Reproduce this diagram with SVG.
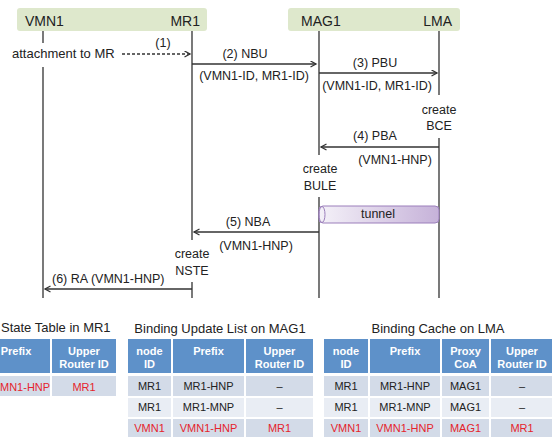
<svg xmlns="http://www.w3.org/2000/svg" width="552" height="441" viewBox="0 0 552 441">
<style>
text{font-family:"Liberation Sans",Arial,sans-serif;fill:#222}
.hd{font-size:14px}
.lb{font-size:12.5px}
.c{text-anchor:middle}
.life{stroke:#333;stroke-width:1.3;fill:none}
.msg{stroke:#333;stroke-width:1.3;fill:none;marker-end:url(#ah)}
.ttl{font-size:13px}
.th{font-size:11px;font-weight:bold;fill:#fff;text-anchor:middle}
.td{font-size:11px;text-anchor:middle}
.red{fill:#e5242c}
.hc{fill:#5e91c9;stroke:#fff;stroke-width:2}
.r1{fill:#d3dbe8;stroke:#fff;stroke-width:2}
.r2{fill:#e9edf4;stroke:#fff;stroke-width:2}
</style>
<defs>
<marker id="ah" markerWidth="8" markerHeight="8" refX="6" refY="3.5" orient="auto" markerUnits="userSpaceOnUse">
<path d="M0.5,0.5 L6,3.5 L0.5,6.5" fill="none" stroke="#333" stroke-width="1.3"/>
</marker>
<linearGradient id="tg" x1="0" y1="0" x2="1" y2="0">
<stop offset="0" stop-color="#f4f1f8"/>
<stop offset="1" stop-color="#c6b2d9"/>
</linearGradient>
</defs>

<g id="header-left">
<rect x="17" y="8" width="190" height="23" rx="3" fill="#dee8cc"/>
<text class="hd" x="25" y="26">VMN1</text>
<text class="hd" x="200" y="26" text-anchor="end">MR1</text>
</g>
<g id="header-right">
<rect x="288" y="8" width="172" height="23" rx="3" fill="#dee8cc"/>
<text class="hd" x="301" y="26">MAG1</text>
<text class="hd" x="452" y="26" text-anchor="end">LMA</text>
</g>

<g id="lifelines">
<path class="life" d="M43,31 V43 M43,67 V298"/>
<path class="life" d="M192,31 V240 M192,282 V298"/>
<path class="life" d="M319,31 V155 M319,197 V298"/>
<path class="life" d="M439,31 V95 M439,138 V298"/>
</g>

<g id="tunnel">
<rect x="319" y="206" width="120" height="17" rx="4" fill="url(#tg)" stroke="#9b7fbb" stroke-width="1"/>
<ellipse cx="322" cy="214.5" rx="3" ry="8" fill="none" stroke="#9b7fbb" stroke-width="1"/>
<text class="lb c" x="378" y="218">tunnel</text>
</g>

<g id="connectors">
<line class="msg" x1="122" y1="54" x2="190" y2="54" stroke-dasharray="3,2"/>
<line class="msg" x1="192" y1="64" x2="316" y2="64"/>
<line class="msg" x1="319" y1="73" x2="437" y2="73"/>
<line class="msg" x1="439" y1="147" x2="321" y2="147"/>
<line class="msg" x1="319" y1="232" x2="194" y2="232"/>
<line class="msg" x1="192" y1="289" x2="45" y2="289"/>
</g>

<g id="labels">
<text x="12" y="58" style="font-size:13px">attachment to MR</text>
<text class="lb c" x="163" y="47">(1)</text>
<text class="lb c" x="245" y="58">(2) NBU</text>
<text class="lb c" x="254" y="80">(VMN1-ID, MR1-ID)</text>
<text class="lb c" x="375" y="67">(3) PBU</text>
<text class="lb c" x="377" y="90">(VMN1-ID, MR1-ID)</text>
<text class="lb c" x="439" y="114">create</text>
<text class="lb c" x="439" y="130">BCE</text>
<text class="lb c" x="375" y="140">(4) PBA</text>
<text class="lb c" x="395" y="164">(VMN1-HNP)</text>
<text class="lb c" x="320" y="173">create</text>
<text class="lb c" x="320" y="190">BULE</text>
<text class="lb c" x="248" y="226">(5) NBA</text>
<text class="lb c" x="256" y="250">(VMN1-HNP)</text>
<text class="lb c" x="192" y="258">create</text>
<text class="lb c" x="192" y="275">NSTE</text>
<text class="lb" x="52" y="283">(6) RA (VMN1-HNP)</text>
</g>

<g id="state-table">
<text class="ttl" x="1" y="332">State Table in MR1</text>
<rect class="hc" x="-10" y="338" width="61" height="36"/>
<rect class="hc" x="51" y="338" width="66" height="36"/>
<rect class="r1" x="-10" y="375" width="61" height="22"/>
<rect class="r1" x="51" y="375" width="66" height="22"/>
<text class="th" x="16" y="355">Prefix</text>
<text class="th" x="84" y="355">Upper</text>
<text class="th" x="84" y="368">Router ID</text>
<text class="td red" x="0" y="391" text-anchor="start" style="text-anchor:start">MN1-HNP</text>
<text class="td red" x="84" y="391">MR1</text>
</g>

<g id="bul-table">
<text class="ttl c" x="220" y="333">Binding Update List on MAG1</text>
<rect class="hc" x="127" y="338" width="45" height="36"/>
<rect class="hc" x="172" y="338" width="73" height="36"/>
<rect class="hc" x="245" y="338" width="69" height="36"/>
<rect class="r1" x="127" y="375" width="45" height="22"/>
<rect class="r1" x="172" y="375" width="73" height="22"/>
<rect class="r1" x="245" y="375" width="69" height="22"/>
<rect class="r2" x="127" y="397" width="45" height="21"/>
<rect class="r2" x="172" y="397" width="73" height="21"/>
<rect class="r2" x="245" y="397" width="69" height="21"/>
<rect class="r1" x="127" y="418" width="45" height="20"/>
<rect class="r1" x="172" y="418" width="73" height="20"/>
<rect class="r1" x="245" y="418" width="69" height="20"/>
<text class="th" x="149.5" y="355">node</text>
<text class="th" x="149.5" y="368">ID</text>
<text class="th" x="208.5" y="355">Prefix</text>
<text class="th" x="279.5" y="355">Upper</text>
<text class="th" x="279.5" y="368">Router ID</text>
<text class="td" x="149.5" y="390">MR1</text>
<text class="td" x="208.5" y="390">MR1-HNP</text>
<text class="td" x="279.5" y="390">–</text>
<text class="td" x="149.5" y="411">MR1</text>
<text class="td" x="208.5" y="411">MR1-MNP</text>
<text class="td" x="279.5" y="411">–</text>
<text class="td red" x="149.5" y="432">VMN1</text>
<text class="td red" x="208.5" y="432">VMN1-HNP</text>
<text class="td red" x="279.5" y="432">MR1</text>
</g>

<g id="bc-table">
<text class="ttl c" x="438" y="333">Binding Cache on LMA</text>
<rect class="hc" x="323" y="338" width="46" height="36"/>
<rect class="hc" x="369" y="338" width="72" height="36"/>
<rect class="hc" x="441" y="338" width="49" height="36"/>
<rect class="hc" x="490" y="338" width="70" height="36"/>
<rect class="r1" x="323" y="375" width="46" height="22"/>
<rect class="r1" x="369" y="375" width="72" height="22"/>
<rect class="r1" x="441" y="375" width="49" height="22"/>
<rect class="r1" x="490" y="375" width="70" height="22"/>
<rect class="r2" x="323" y="397" width="46" height="21"/>
<rect class="r2" x="369" y="397" width="72" height="21"/>
<rect class="r2" x="441" y="397" width="49" height="21"/>
<rect class="r2" x="490" y="397" width="70" height="21"/>
<rect class="r1" x="323" y="418" width="46" height="20"/>
<rect class="r1" x="369" y="418" width="72" height="20"/>
<rect class="r1" x="441" y="418" width="49" height="20"/>
<rect class="r1" x="490" y="418" width="70" height="20"/>
<text class="th" x="346" y="355">node</text>
<text class="th" x="346" y="368">ID</text>
<text class="th" x="405" y="355">Prefix</text>
<text class="th" x="465.5" y="355">Proxy</text>
<text class="th" x="465.5" y="368">CoA</text>
<text class="th" x="522" y="355">Upper</text>
<text class="th" x="522" y="368">Router ID</text>
<text class="td" x="346" y="390">MR1</text>
<text class="td" x="405" y="390">MR1-HNP</text>
<text class="td" x="465.5" y="390">MAG1</text>
<text class="td" x="522" y="390">–</text>
<text class="td" x="346" y="411">MR1</text>
<text class="td" x="405" y="411">MR1-MNP</text>
<text class="td" x="465.5" y="411">MAG1</text>
<text class="td" x="522" y="411">–</text>
<text class="td red" x="346" y="432">VMN1</text>
<text class="td red" x="405" y="432">VMN1-HNP</text>
<text class="td red" x="465.5" y="432">MAG1</text>
<text class="td red" x="522" y="432">MR1</text>
</g>
</svg>
